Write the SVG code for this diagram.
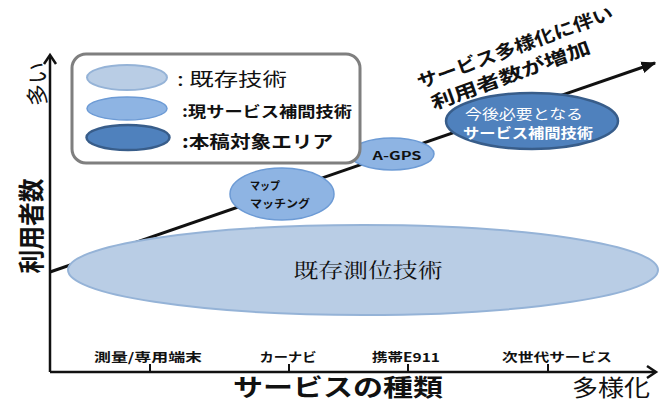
<svg xmlns="http://www.w3.org/2000/svg" width="659" height="403" viewBox="0 0 659 403">
<style>
  text { font-family: "Noto Sans CJK JP", "Noto Sans", sans-serif; fill: #111; }
  .b { font-weight: 700; }
  .axis { stroke: #111; stroke-width: 2.5; fill: none; }
  .tick { stroke: #111; stroke-width: 2; }
  .lt { fill: #b9cde5; stroke: #95b3d7; stroke-width: 2; }
  .md { fill: #8eb4e3; stroke: #6d9bd5; stroke-width: 1.5; }
  .dk { fill: #4f81bd; stroke: #385d8a; stroke-width: 2.5; }
  .tl { font-size: 12.5px; font-weight: 700; text-anchor: middle; }
</style>
<defs>
  <marker id="ah" viewBox="0 0 10 10" refX="9" refY="5" markerWidth="5" markerHeight="5" orient="auto" markerUnits="strokeWidth">
    <path d="M0,1 L10,5 L0,9 Z" fill="#111"/>
  </marker>
</defs>
<rect width="659" height="403" fill="#fff"/>

<g id="axes">
  <path class="axis" d="M50,372 V56"/>
  <path class="axis" d="M44,64 L50,55 L56,64"/>
  <path class="axis" d="M50,372 H655"/>
  <path class="axis" d="M647,366 L656,372 L647,378"/>
  <line class="tick" x1="150" y1="364" x2="150" y2="372"/>
  <line class="tick" x1="289" y1="364" x2="289" y2="372"/>
  <line class="tick" x1="408" y1="364" x2="408" y2="372"/>
  <line class="tick" x1="548" y1="364" x2="548" y2="372"/>
  <text class="tl" x="148" y="362" textLength="108" lengthAdjust="spacingAndGlyphs">測量/専用端末</text>
  <text class="tl" x="288" y="362" textLength="57" lengthAdjust="spacingAndGlyphs">カーナビ</text>
  <text class="tl" x="406" y="362" textLength="68" lengthAdjust="spacingAndGlyphs">携帯E911</text>
  <text class="tl" x="557" y="362" textLength="110" lengthAdjust="spacingAndGlyphs">次世代サービス</text>
  <text class="b" x="233" y="396" font-size="24" textLength="210" lengthAdjust="spacingAndGlyphs">サービスの種類</text>
  <text x="572" y="396" font-size="23" textLength="78" lengthAdjust="spacingAndGlyphs">多様化</text>
  <text transform="translate(45,84) rotate(-90)" font-size="22" text-anchor="middle">多い</text>
  <text class="b" transform="translate(41,226) rotate(-90)" font-size="26" text-anchor="middle" textLength="95" lengthAdjust="spacingAndGlyphs">利用者数</text>
</g>

<g id="connectors">
  <line x1="50" y1="272" x2="655" y2="63" stroke="#111" stroke-width="3" marker-end="url(#ah)"/>
</g>

<g id="trend-label">
  <text class="b" transform="translate(420,89) rotate(-20)" font-size="18" textLength="207" lengthAdjust="spacingAndGlyphs">サービス多様化に伴い</text>
  <text class="b" transform="translate(434,110) rotate(-20)" font-size="18" textLength="168" lengthAdjust="spacingAndGlyphs">利用者数が増加</text>
</g>

<g id="existing">
  <ellipse class="lt" cx="363" cy="270" rx="295" ry="45"/>
  <text x="368" y="278" font-size="20" text-anchor="middle" textLength="149" lengthAdjust="spacingAndGlyphs" style="font-family:'Noto Serif CJK JP','Noto Sans CJK JP',serif">既存測位技術</text>
</g>

<g id="mapmatching">
  <ellipse class="md" cx="282" cy="194" rx="52" ry="26"/>
  <text class="b" x="250" y="190" font-size="11" textLength="30" lengthAdjust="spacingAndGlyphs">マップ</text>
  <text class="b" x="250" y="208" font-size="11" textLength="60" lengthAdjust="spacingAndGlyphs">マッチング</text>
</g>

<g id="agps">
  <ellipse class="md" cx="392" cy="154" rx="42" ry="16"/>
  <text class="b" x="397" y="160" font-size="11.5" text-anchor="middle" textLength="49" lengthAdjust="spacingAndGlyphs" fill="#222">A-GPS</text>
</g>

<g id="future">
  <ellipse class="dk" cx="532" cy="121" rx="86" ry="28"/>
  <text x="524" y="119" font-size="14" text-anchor="middle" textLength="118" lengthAdjust="spacingAndGlyphs" style="fill:#fff">今後必要となる</text>
  <text class="b" x="528" y="138" font-size="14" text-anchor="middle" textLength="130" lengthAdjust="spacingAndGlyphs" style="fill:#fff">サービス補間技術</text>
</g>

<g id="legend">
  <rect x="72" y="54" width="288" height="109" rx="14" fill="#fff" stroke="#7f7f7f" stroke-width="3"/>
  <ellipse class="lt" cx="127" cy="77.5" rx="40" ry="12.5"/>
  <ellipse class="md" cx="127" cy="108.5" rx="40" ry="11.5"/>
  <ellipse class="dk" cx="128" cy="137.5" rx="41.5" ry="12.5"/>
  <text x="177" y="86" font-size="18" textLength="110" lengthAdjust="spacingAndGlyphs">: 既存技術</text>
  <text class="b" x="182" y="117" font-size="15" textLength="170" lengthAdjust="spacingAndGlyphs">:現サービス補間技術</text>
  <text class="b" x="182" y="148" font-size="17" textLength="151" lengthAdjust="spacingAndGlyphs">:本稿対象エリア</text>
</g>
</svg>
